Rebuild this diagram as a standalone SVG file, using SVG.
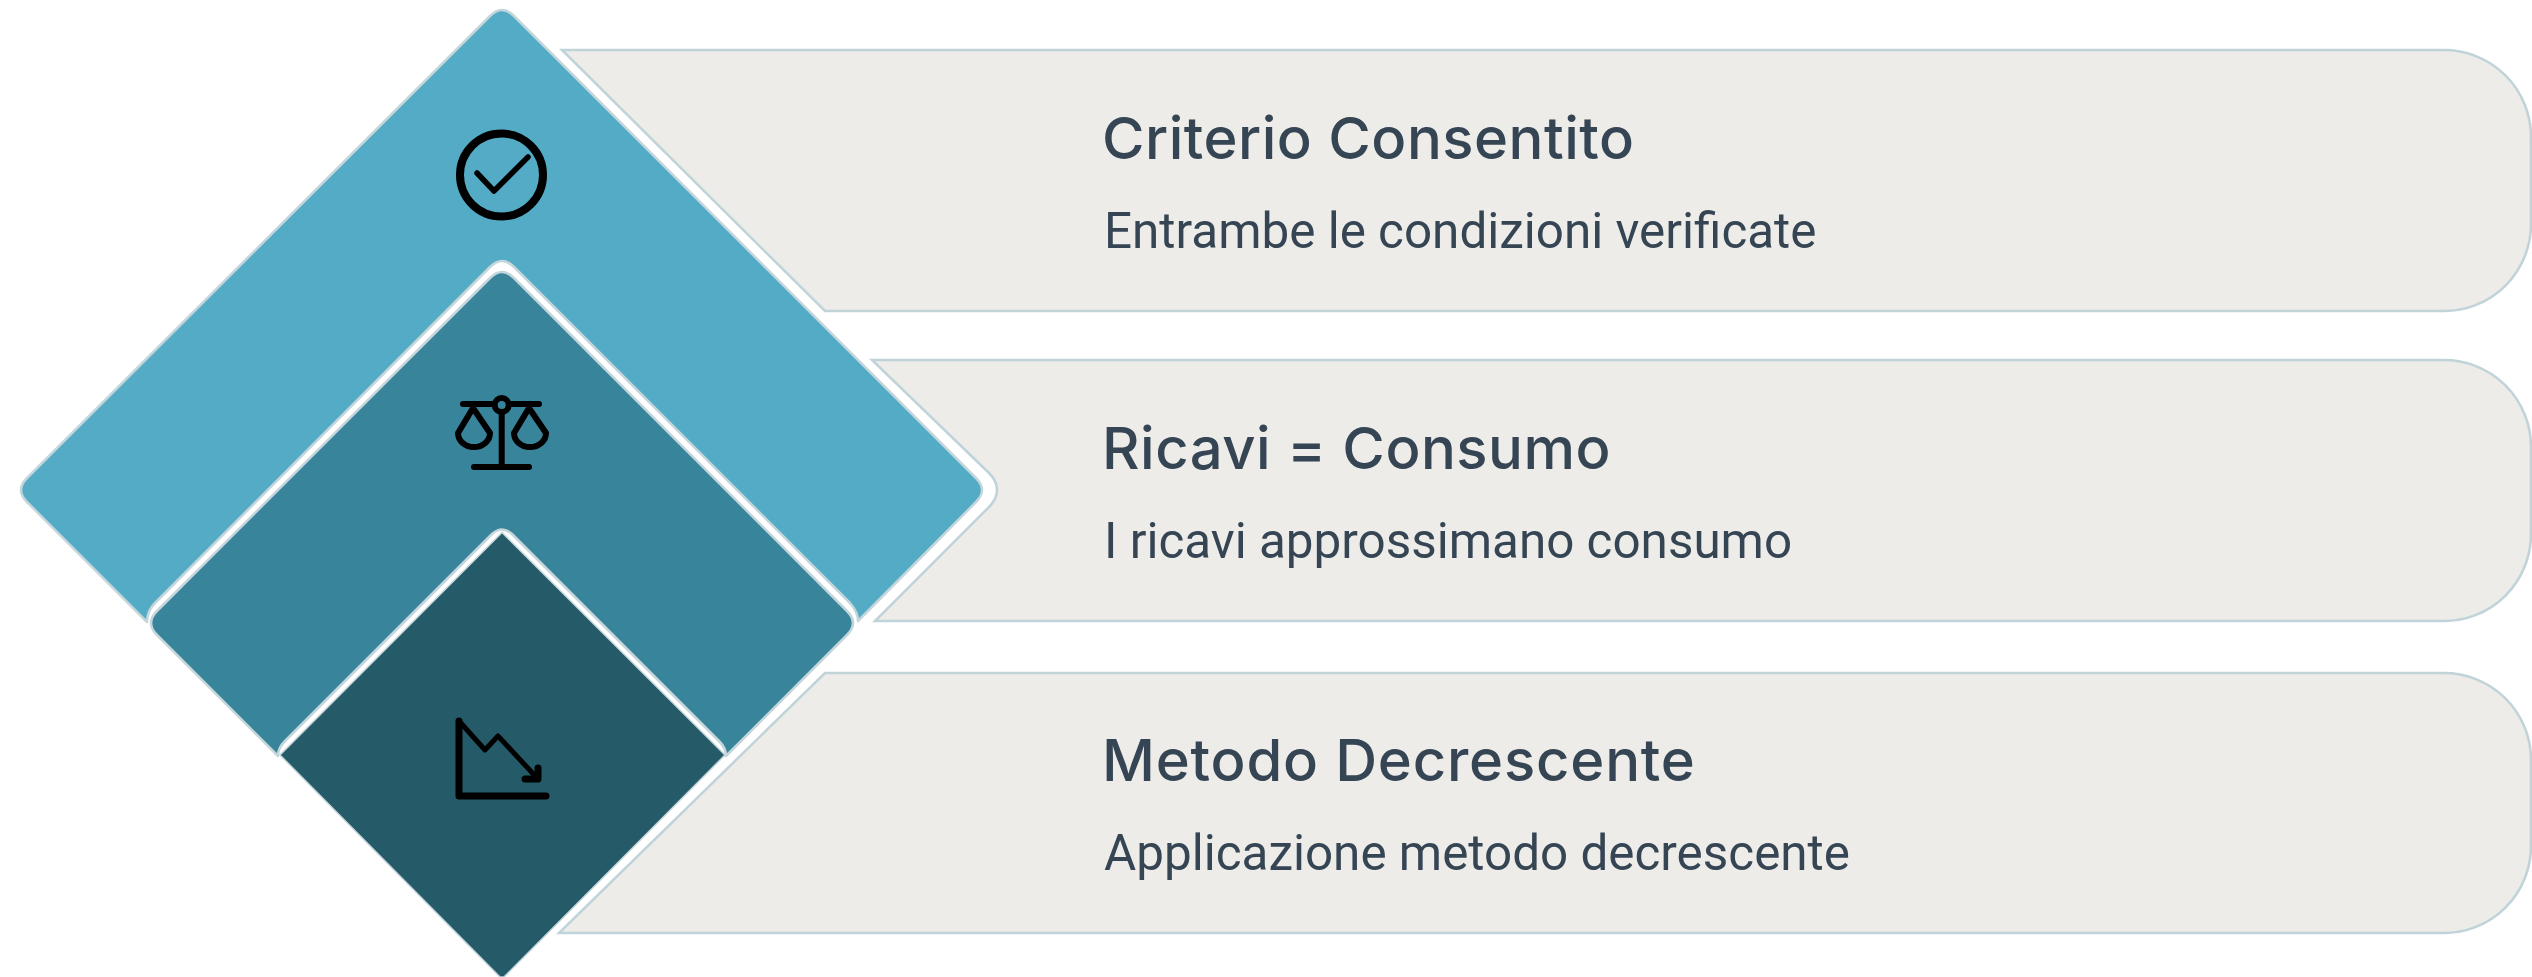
<svg xmlns="http://www.w3.org/2000/svg" width="2532" height="977" viewBox="0 0 2532 977">
<style>
.band{fill:#edece8;stroke:#bfd3d9;stroke-width:2.5}
.dia{stroke:#c4d6db;stroke-width:2.5;stroke-linejoin:round}
.title{font-family:"Inter","Noto Sans",sans-serif;font-size:58px;font-weight:500;letter-spacing:.5px;fill:#364554}
.sub{font-family:"Roboto","Noto Sans",sans-serif;font-size:49.400px;font-weight:400;fill:#364554}
.ico{fill:none;stroke:#000;stroke-linecap:round;stroke-linejoin:round}
</style>
<rect width="2532" height="977" fill="#fff"/>
<g id="connectors"></g>
<g id="band-1">
<path class="band" d="M562 50H2443A87 87 0 0 1 2531 137V223A87 87 0 0 1 2443 311H825Z"/>
<text class="title" x="1102" y="159">Criterio Consentito</text>
<text class="sub" x="1104" y="248">Entrambe le condizioni verificate</text>
</g>
<g id="band-2">
<path class="band" d="M872 360H2443A87 87 0 0 1 2531 447V533A87 87 0 0 1 2443 621H875L989 507Q997 499 997 490Q997 481 989 473Z"/>
<text class="title" x="1102" y="469">Ricavi = Consumo</text>
<text class="sub" x="1104" y="558">I ricavi approssimano consumo</text>
</g>
<g id="band-3">
<path class="band" d="M825 673H2443A87 87 0 0 1 2531 760V846A87 87 0 0 1 2443 933H559Z"/>
<text class="title" x="1102" y="781" style="letter-spacing:.8px">Metodo Decrescente</text>
<text class="sub" x="1104" y="870">Applicazione metodo decrescente</text>
</g>
<g id="diamond-1">
<path class="dia" fill="#53abc5" d="M490 16Q502 4 514 16L976 478Q988 490 976 502L858 621Q858 612 850 603L514 267Q502 255 490 267L155 603Q147 611 147 622L27 502Q15 490 27 478Z"/>
<g class="ico">
<circle cx="501.500" cy="175" r="41.500" stroke-width="8"/>
<path d="M477 173L494 191L528 157" stroke-width="5.500"/>
</g>
</g>
<g id="diamond-2">
<path class="dia" fill="#37849b" d="M490 278Q502 266 514 278L847 611Q859 623 847 635L726 756Q726 748 719 741L512 534Q502 525 492 534L285 741Q278 748 278 756L157 635Q145 623 157 611Z"/>
<g class="ico">
<path d="M463 404H492M512 404H539M501.700 412V466M474 467H529" stroke-width="6"/>
<circle cx="501.700" cy="405" r="7" stroke-width="6"/>
<path d="M473 408L458 433A16 14 0 0 0 490 433ZM529 408L514 433A16 14 0 0 0 546 433Z" stroke-width="6"/>
</g>
</g>
<g id="diamond-3">
<path fill="#255a68" stroke="#c4d6db" stroke-width="1.500" d="M502 532.500L725 755L504 977H500L280 755Z"/>
<g class="ico">
<path d="M459 721V796H546" stroke-width="7"/>
<path d="M459 721L485 750L498 736L538 779" stroke-width="5"/>
<path d="M538 768V779H525" stroke-width="7"/>
</g>
</g>
</svg>
